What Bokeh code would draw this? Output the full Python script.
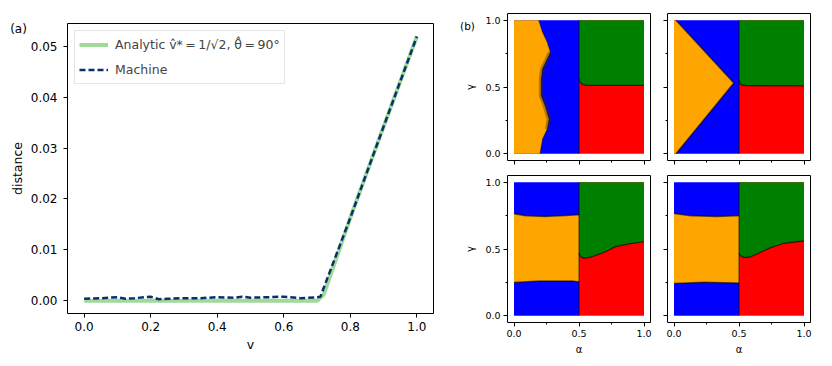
from bokeh.plotting import figure
from bokeh.layouts import row, column
from bokeh.models import (FixedTicker, PrintfTickFormatter, Label, Legend,
                          LegendItem, Range1d)
from bokeh.embed import file_html
from bokeh.resources import INLINE

FONT = "DejaVu Sans"

# ---------------- panel (a) data ----------------
v_analytic = [0.0, 0.70, 0.72, 0.80, 0.90, 1.0]
d_analytic = [0.0, 0.0, 0.0012, 0.0163, 0.0342, 0.0519]

v_machine = [0.0, 0.05, 0.1, 0.125, 0.15, 0.2, 0.225, 0.25, 0.3, 0.35, 0.4,
             0.45, 0.475, 0.5, 0.55, 0.6, 0.65, 0.7, 0.71, 0.8, 0.9, 1.0]
d_machine = [0.0004, 0.0005, 0.0007, 0.0004, 0.0005, 0.0008, 0.0003, 0.0004,
             0.0005, 0.0005, 0.0007, 0.0006, 0.0008, 0.0006, 0.0007, 0.0008,
             0.0005, 0.0007, 0.0008, 0.0163, 0.0342, 0.0519]

a_xticks = [0.0, 0.2, 0.4, 0.6, 0.8, 1.0]
a_yticks = [0.0, 0.01, 0.02, 0.03, 0.04, 0.05]
label_analytic = "Analytic v\u0302*\u2009=\u20091/\u221a2, \u03b8\u0302\u2009=\u200990\u00b0"
label_machine = "Machine"

# ---------------- panel (b) data: region boundaries (alpha, gamma) ----------------
p1_orange_alpha = [0.19, 0.22, 0.256, 0.28, 0.256, 0.22, 0.21, 0.21, 0.24, 0.27, 0.256, 0.22, 0.20]
p1_orange_gamma = [1.0, 0.91, 0.835, 0.76, 0.71, 0.635, 0.56, 0.435, 0.36, 0.26, 0.185, 0.11, 0.0]
p1_green_alpha = [1.0, 0.56, 0.525, 0.505, 0.5]
p1_green_gamma = [0.512, 0.512, 0.52, 0.54, 0.56]

p2_orange_alpha = [0.015, 0.46, 0.015]
p2_orange_gamma = [1.0, 0.53, 0.0]
p2_green_alpha = [1.0, 0.56, 0.52, 0.505, 0.5]
p2_green_gamma = [0.508, 0.51, 0.515, 0.53, 0.55]

p3_upper_alpha = [0.0, 0.09, 0.24, 0.40, 0.5]
p3_upper_gamma = [0.764, 0.749, 0.744, 0.751, 0.756]
p3_lower_alpha = [0.0, 0.19, 0.45, 0.5]
p3_lower_gamma = [0.25, 0.26, 0.26, 0.254]
p3_green_alpha = [1.0, 0.885, 0.78, 0.705, 0.60, 0.54, 0.51, 0.5]
p3_green_gamma = [0.555, 0.538, 0.518, 0.48, 0.442, 0.43, 0.445, 0.47]

p4_upper_alpha = [0.0, 0.128, 0.33, 0.487, 0.5]
p4_upper_gamma = [0.766, 0.749, 0.744, 0.749, 0.75]
p4_lower_alpha = [0.0, 0.23, 0.487, 0.5]
p4_lower_gamma = [0.241, 0.251, 0.246, 0.246]
p4_green_alpha = [1.0, 0.846, 0.744, 0.59, 0.54, 0.51, 0.5]
p4_green_gamma = [0.56, 0.543, 0.51, 0.442, 0.435, 0.45, 0.467]

b_ticks = [0.0, 0.5, 1.0]
b_minor = [0.25, 0.75]

C_ORANGE = "#ffa500"
C_BLUE = "#0000ff"
C_GREEN = "#008000"
C_RED = "#ff0000"

# ---------------- panel (a) ----------------
pa = figure(width=450, height=364, title=None, output_backend="svg",
            toolbar_location=None,
            x_range=Range1d(-0.05, 1.05), y_range=Range1d(-0.0025, 0.05446),
            min_border_left=67, min_border_right=17, min_border_top=23,
            min_border_bottom=51)
pa.grid.visible = False
pa.outline_line_color = "black"
pa.outline_line_width = 1
pa.outline_line_alpha = 1

r1 = pa.line(v_analytic, d_analytic, line_color="#a1d99b", line_width=4)
r2 = pa.line(v_machine, d_machine, line_color="#08306b", line_width=2.5,
             line_dash="6 3")

for ax in (pa.xaxis[0], pa.yaxis[0]):
    ax.axis_line_color = None
    ax.major_tick_in = 0
    ax.major_tick_out = 4
    ax.minor_tick_line_color = None
    ax.major_tick_line_color = "black"
    ax.major_label_text_font = FONT
    ax.major_label_text_font_size = "12px"
    ax.major_label_text_color = "black"
    ax.axis_label_text_font = FONT
    ax.axis_label_text_font_size = "12.5px"
    ax.axis_label_text_font_style = "normal"
    ax.axis_label_text_color = "black"

pa.xaxis.ticker = FixedTicker(ticks=a_xticks)
pa.yaxis.ticker = FixedTicker(ticks=a_yticks)
pa.xaxis.formatter = PrintfTickFormatter(format="%.1f")
pa.yaxis.formatter = PrintfTickFormatter(format="%.2f")
pa.xaxis.axis_label = "v"
pa.yaxis.axis_label = "distance"
pa.xaxis.major_label_standoff = 4
pa.yaxis.major_label_standoff = 6
pa.xaxis.axis_label_standoff = 3
pa.yaxis.axis_label_standoff = 3

legend = Legend(items=[LegendItem(label=label_analytic, renderers=[r1]),
                       LegendItem(label=label_machine, renderers=[r2])],
                location="top_left")
legend.margin = 7
legend.padding = 4
legend.spacing = 6
legend.glyph_width = 29
legend.glyph_height = 19
legend.label_height = 19
legend.label_standoff = 7
legend.label_text_font = FONT
legend.label_text_font_size = "12.5px"
legend.border_line_color = "#cccccc"
legend.border_line_width = 1
legend.background_fill_alpha = 0.8
pa.add_layout(legend)

pa.add_layout(Label(x=-49, y=-5, x_units="screen", y_units="screen", text="(a)",
                    text_font=FONT, text_font_size="12px", text_align="center",
                    text_baseline="middle", text_color="black"), "above")


# ---------------- panel (b) ----------------
def make_panel(width, height, bl, br, bt, bb, xlabels, ylabels):
    f = figure(width=width, height=height, title=None, output_backend="svg",
               toolbar_location=None,
               x_range=Range1d(-0.05, 1.05), y_range=Range1d(-0.05, 1.05),
               min_border_left=bl, min_border_right=br, min_border_top=bt,
               min_border_bottom=bb)
    f.grid.visible = False
    f.outline_line_color = "black"
    f.outline_line_width = 1
    f.outline_line_alpha = 1
    for ax, show in ((f.xaxis[0], xlabels), (f.yaxis[0], ylabels)):
        ax.ticker = FixedTicker(ticks=b_ticks, minor_ticks=b_minor)
        ax.formatter = PrintfTickFormatter(format="%.1f")
        ax.axis_line_color = None
        ax.major_tick_in = 0
        ax.major_tick_out = 4
        ax.minor_tick_in = 0
        ax.minor_tick_out = 2
        ax.major_tick_line_color = "black"
        ax.minor_tick_line_color = "black"
        ax.major_label_text_font = FONT
        ax.axis_label_text_font = FONT
        ax.axis_label_text_font_size = "10px"
        ax.axis_label_text_font_style = "normal"
        ax.axis_label_text_color = "black"
        if show:
            ax.major_label_text_font_size = "9.5px"
            ax.major_label_text_color = "black"
            ax.major_label_standoff = 3
        else:
            ax.major_label_text_font_size = "0px"
            ax.major_label_text_color = None
            ax.major_label_standoff = 0
    if xlabels:
        f.xaxis.axis_label = "\u03b1"
        f.xaxis.axis_label_standoff = 4
    if ylabels:
        f.yaxis.axis_label = "\u03b3"
        f.yaxis.axis_label_standoff = 6
    return f


def base_regions(f):
    f.patch([0, 0.5, 0.5, 0], [0, 0, 1, 1], fill_color=C_BLUE, line_color=None)
    f.patch([0.5, 1, 1, 0.5], [0, 0, 1, 1], fill_color=C_RED, line_color=None)


def green_region(f, ga, gg):
    f.patch([0.5, 1.0] + ga, [1.0, 1.0] + gg, fill_color=C_GREEN, line_color=None)
    f.line(ga, gg, line_color="black", line_alpha=0.6, line_width=1.3)
    f.line([0.5, 0.5], [0.0, 1.0], line_color="black", line_alpha=0.55, line_width=1.2)


# top-left
f1 = make_panel(208, 168, 57, 8, 13, 8, False, True)
base_regions(f1)
f1.patch([0.0] + p1_orange_alpha + [0.0], [1.0] + p1_orange_gamma + [0.0],
         fill_color=C_ORANGE, line_color=None)
f1.line(p1_orange_alpha[3:11], p1_orange_gamma[3:11], line_color="#3a2500",
        line_alpha=0.35, line_width=5)
f1.line(p1_orange_alpha, p1_orange_gamma, line_color="black", line_alpha=0.35,
        line_width=1.2)
green_region(f1, p1_green_alpha, p1_green_gamma)
f1.add_layout(Label(x=-40, y=-12, x_units="screen", y_units="screen", text="(b)",
                    text_font=FONT, text_font_size="10.5px", text_align="center",
                    text_baseline="middle", text_color="black"), "above")

# top-right
f2 = make_panel(172, 168, 9, 20, 13, 8, False, False)
base_regions(f2)
f2.patch([0.0] + p2_orange_alpha + [0.0], [1.0] + p2_orange_gamma + [0.0],
         fill_color=C_ORANGE, line_color=None)
f2.line(p2_orange_alpha, p2_orange_gamma, line_color="black", line_alpha=0.55,
        line_width=1.5)
green_region(f2, p2_green_alpha, p2_green_gamma)


def band_panel(f, ua, ug, la, lg, ga, gg):
    base_regions(f)
    f.patch(ua + la[::-1], ug + lg[::-1], fill_color=C_ORANGE, line_color=None)
    f.line(ua, ug, line_color="black", line_alpha=0.55, line_width=1.5)
    f.line(la, lg, line_color="black", line_alpha=0.55, line_width=1.5)
    green_region(f, ga, gg)


# bottom-left
f3 = make_panel(208, 196, 57, 8, 7, 42, True, True)
band_panel(f3, p3_upper_alpha, p3_upper_gamma, p3_lower_alpha, p3_lower_gamma,
           p3_green_alpha, p3_green_gamma)

# bottom-right
f4 = make_panel(172, 196, 9, 20, 7, 42, True, False)
band_panel(f4, p4_upper_alpha, p4_upper_gamma, p4_lower_alpha, p4_lower_gamma,
           p4_green_alpha, p4_green_gamma)

layout = row(pa, column(row(f1, f2), row(f3, f4)))

open("out.html", "w").write(file_html(layout, INLINE))
